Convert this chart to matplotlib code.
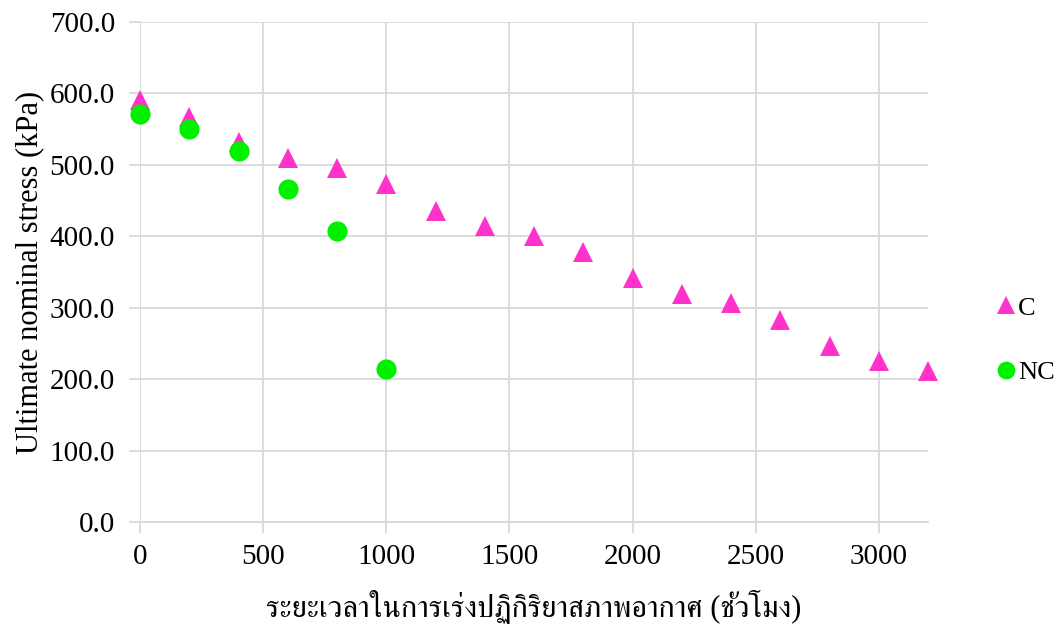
import matplotlib
matplotlib.use("Agg")
import matplotlib.pyplot as plt
from matplotlib import font_manager
from matplotlib.ft2font import FT2Font

# Data: accelerated weathering time (hours) vs ultimate nominal stress (kPa)
hours_c = [0, 200, 400, 600, 800, 1000, 1200, 1400, 1600, 1800,
           2000, 2200, 2400, 2600, 2800, 3000, 3200]
stress_c = [591, 567, 532, 509, 495, 473, 436, 414, 401, 378,
            342, 319, 306, 283, 247, 225, 211]

hours_nc = [0, 200, 400, 600, 800, 1000]
stress_nc = [571, 550, 519, 466, 408, 214]

series_labels = ["C", "NC"]
x_ticks = [0, 500, 1000, 1500, 2000, 2500, 3000]
y_ticks = [0, 100, 200, 300, 400, 500, 600, 700]
x_label = "ระยะเวลาในการเร่งปฏิกิริยาสภาพอากาศ (ชั่วโมง)"
y_label = "Ultimate nominal stress (kPa)"


def find_thai_font():
    """Return the name of an installed font that can draw Thai glyphs."""
    preferred = []
    others = []
    for entry in font_manager.fontManager.ttflist:
        try:
            cmap = FT2Font(entry.fname).get_charmap()
        except Exception:
            continue
        if ord("ร") in cmap and ord("ฏ") in cmap:
            name = entry.name
            if "serif" in name.lower() and "sans" not in name.lower():
                preferred.append(name)
            else:
                others.append(name)
    for group in (preferred, others):
        if group:
            return group[0]
    return None


thai_font = find_thai_font()
families = ["Liberation Serif"]
if thai_font:
    families.append(thai_font)
families.append("DejaVu Sans")

plt.rcParams["font.family"] = families

fig = plt.figure(figsize=(10.62, 6.30), dpi=100)
ax = fig.add_axes([140 / 1062, 1 - 522 / 630, (928 - 140) / 1062, (522 - 22) / 630])

pink = "#FF33CC"
green = "#00F000"

h1, = ax.plot(hours_c, stress_c, linestyle="none", marker="^", markersize=14.5,
              color=pink, markeredgewidth=0, label=series_labels[0], zorder=3,
              clip_on=False)
h2, = ax.plot(hours_nc, stress_nc, linestyle="none", marker="o", markersize=14.5,
              color=green, markeredgewidth=0, label=series_labels[1], zorder=4,
              clip_on=False)

ax.set_xlim(0, 3200)
ax.set_ylim(0, 700)
ax.set_xticks(x_ticks)
ax.set_yticks(y_ticks)
ax.set_yticklabels([f"{v:.1f}" for v in y_ticks])

grid_color = "#D9D9D9"
ax.grid(True, color=grid_color, linewidth=1.3)
ax.set_axisbelow(True)
for side in ("top", "right", "left"):
    ax.spines[side].set_visible(False)
ax.spines["bottom"].set_color(grid_color)
ax.spines["bottom"].set_linewidth(1.3)
ax.tick_params(axis="both", colors=grid_color, labelcolor="black",
               labelsize=21, length=8, width=1.3)
ax.tick_params(axis="x", pad=8)
ax.tick_params(axis="y", pad=10)

ax.set_xlabel(x_label, fontsize=22, labelpad=14)
ax.set_ylabel(y_label, fontsize=22, labelpad=4)

fig.legend(handles=[h1, h2], loc="center left", bbox_to_anchor=(984 / 1062, 1 - 340 / 630),
           frameon=False, fontsize=19, handlelength=0.7, handletextpad=0.1,
           labelspacing=1.55, markerscale=0.88, borderpad=0.0)

fig.savefig("out.png", dpi=100)
